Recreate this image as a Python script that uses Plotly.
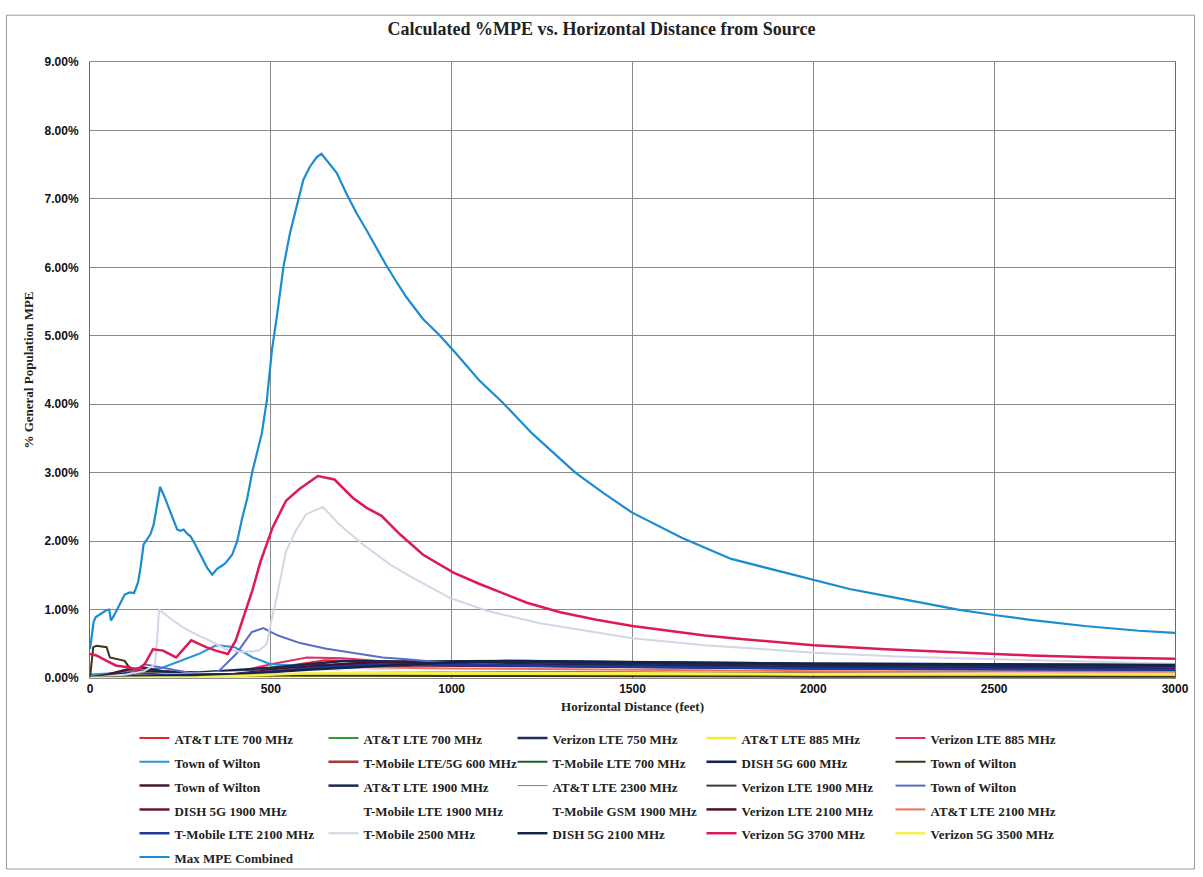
import plotly.graph_objects as go

# ---------------- data (distance in feet, value in % of general population MPE) ----------------
att700_red_ft = [0, 50, 100, 150, 200, 300, 400, 500, 550, 650, 800, 1000, 1500, 2000, 2500, 3000]
att700_red_pct = [0.02, 0.06, 0.10, 0.09, 0.08, 0.06, 0.06, 0.12, 0.18, 0.26, 0.24, 0.20, 0.15, 0.13, 0.12, 0.11]

att700_green_ft = [0, 100, 200, 300, 400, 500, 600, 700, 900, 1200, 1600, 2000, 2500, 3000]
att700_green_pct = [0.00, 0.01, 0.02, 0.03, 0.04, 0.08, 0.12, 0.15, 0.18, 0.17, 0.15, 0.14, 0.13, 0.12]

vzw750_ft = [0, 100, 200, 300, 400, 500, 600, 800, 1000, 1200, 1600, 2000, 2500, 3000]
vzw750_pct = [0.00, 0.03, 0.05, 0.05, 0.06, 0.12, 0.18, 0.22, 0.23, 0.23, 0.21, 0.19, 0.18, 0.17]

att885_ft = [0, 200, 400, 500, 800, 1200, 2000, 3000]
att885_pct = [0.00, 0.01, 0.02, 0.03, 0.05, 0.06, 0.06, 0.06]

vzw885_ft = [0, 200, 400, 500, 600, 700, 800, 1000, 1500, 2000, 2500, 3000]
vzw885_pct = [0.00, 0.02, 0.08, 0.20, 0.30, 0.29, 0.25, 0.20, 0.15, 0.12, 0.11, 0.10]

wilton_lblue_ft = [0, 100, 200, 300, 350, 400, 450, 500, 700, 1000, 2000, 3000]
wilton_lblue_pct = [0.05, 0.08, 0.15, 0.35, 0.48, 0.45, 0.30, 0.20, 0.15, 0.10, 0.06, 0.04]

tmo600_ft = [0, 200, 400, 500, 700, 900, 1200, 2000, 3000]
tmo600_pct = [0.00, 0.04, 0.06, 0.10, 0.18, 0.20, 0.18, 0.15, 0.13]

tmo700_ft = [0, 200, 400, 500, 700, 900, 1200, 2000, 3000]
tmo700_pct = [0.00, 0.03, 0.05, 0.08, 0.15, 0.17, 0.16, 0.13, 0.12]

dish600_ft = [0, 200, 400, 500, 700, 900, 1200, 1500, 2000, 3000]
dish600_pct = [0.00, 0.03, 0.06, 0.10, 0.20, 0.24, 0.25, 0.23, 0.21, 0.19]

wilton_olive_ft = [0, 9, 18, 46, 55, 73, 96, 105, 120, 140, 200, 300, 600, 1000, 2000, 3000]
wilton_olive_pct = [0.00, 0.45, 0.47, 0.45, 0.30, 0.28, 0.25, 0.18, 0.12, 0.10, 0.06, 0.04, 0.04, 0.03, 0.02, 0.02]

wilton_maroon_ft = [0, 50, 100, 150, 200, 300, 500, 800, 1200, 2000, 3000]
wilton_maroon_pct = [0.00, 0.05, 0.12, 0.15, 0.10, 0.06, 0.08, 0.12, 0.11, 0.09, 0.08]

att1900_ft = [0, 150, 300, 500, 700, 900, 1200, 2000, 3000]
att1900_pct = [0.00, 0.10, 0.08, 0.15, 0.25, 0.24, 0.20, 0.16, 0.14]

att2300_ft = [0, 150, 300, 600, 900, 2000, 3000]
att2300_pct = [0.00, 0.08, 0.05, 0.12, 0.14, 0.10, 0.08]

vzw1900_ft = [0, 150, 300, 500, 700, 1000, 2000, 3000]
vzw1900_pct = [0.00, 0.06, 0.05, 0.12, 0.20, 0.18, 0.13, 0.11]

wilton_slate_ft = [0, 100, 150, 200, 250, 300, 356, 404, 447, 479, 520, 581, 650, 719, 809, 857, 948, 1100, 1300, 1600, 2000, 2500, 3000]
wilton_slate_pct = [0.00, 0.03, 0.20, 0.15, 0.10, 0.05, 0.10, 0.35, 0.67, 0.73, 0.62, 0.51, 0.43, 0.37, 0.30, 0.28, 0.24, 0.20, 0.17, 0.14, 0.12, 0.10, 0.09]

dish1900_ft = [0, 200, 400, 600, 900, 1200, 2000, 3000]
dish1900_pct = [0.00, 0.03, 0.05, 0.12, 0.18, 0.17, 0.14, 0.12]

tmo1900_ft = [0, 200, 500, 900, 2000, 3000]
tmo1900_pct = [0.00, 0.05, 0.10, 0.15, 0.12, 0.10]

tmogsm1900_ft = [0, 200, 500, 900, 2000, 3000]
tmogsm1900_pct = [0.00, 0.04, 0.08, 0.12, 0.10, 0.08]

vzw2100_ft = [0, 200, 400, 550, 750, 1000, 1500, 2000, 3000]
vzw2100_pct = [0.00, 0.04, 0.06, 0.14, 0.22, 0.20, 0.16, 0.14, 0.12]

att2100_ft = [0, 200, 400, 550, 700, 1000, 2000, 3000]
att2100_pct = [0.00, 0.03, 0.05, 0.12, 0.16, 0.14, 0.10, 0.09]

tmo2100_ft = [0, 200, 400, 600, 800, 1000, 1500, 2000, 3000]
tmo2100_pct = [0.00, 0.04, 0.05, 0.14, 0.20, 0.19, 0.16, 0.14, 0.12]

tmo2500_ft = [0, 50, 100, 150, 180, 186, 191, 220, 257, 300, 330, 376, 422, 468, 489, 500, 514, 542, 569, 597, 644, 690, 755, 829, 894, 995, 1100, 1244, 1400, 1500, 1700, 2000, 2250, 2500, 2750, 3000]
tmo2500_pct = [0.00, 0.02, 0.05, 0.10, 0.20, 0.60, 1.00, 0.88, 0.74, 0.62, 0.55, 0.42, 0.38, 0.40, 0.50, 0.80, 1.12, 1.85, 2.15, 2.39, 2.50, 2.24, 1.95, 1.66, 1.46, 1.17, 0.98, 0.80, 0.66, 0.58, 0.48, 0.37, 0.31, 0.27, 0.24, 0.21]

dish2100_ft = [0, 200, 400, 600, 800, 1000, 1150, 1500, 2000, 2500, 3000]
dish2100_pct = [0.00, 0.03, 0.05, 0.12, 0.18, 0.23, 0.25, 0.23, 0.21, 0.20, 0.19]

vzw3700_ft = [0, 18, 46, 73, 101, 133, 151, 174, 202, 238, 280, 321, 348, 381, 403, 431, 449, 472, 505, 542, 579, 630, 676, 727, 764, 806, 857, 921, 1005, 1079, 1208, 1300, 1400, 1500, 1600, 1700, 1800, 1900, 2000, 2200, 2400, 2600, 2800, 3000]
vzw3700_pct = [0.35, 0.33, 0.25, 0.18, 0.16, 0.12, 0.20, 0.42, 0.40, 0.30, 0.55, 0.45, 0.40, 0.35, 0.55, 0.99, 1.28, 1.71, 2.20, 2.59, 2.76, 2.95, 2.90, 2.63, 2.49, 2.37, 2.10, 1.80, 1.54, 1.37, 1.10, 0.96, 0.85, 0.76, 0.69, 0.62, 0.57, 0.52, 0.48, 0.42, 0.37, 0.33, 0.30, 0.28]

vzw3500_ft = [0, 300, 600, 1000, 2000, 3000]
vzw3500_pct = [0.00, 0.01, 0.07, 0.08, 0.06, 0.05]

max_ft = [0, 5, 10, 16, 25, 35, 45, 53, 58, 65, 74, 85, 96, 110, 122, 133, 140, 148, 160, 167, 176, 185, 194, 205, 218, 230, 241, 250, 259, 270, 278, 288, 296, 310, 324, 338, 352, 365, 375, 393, 407, 421, 435, 449, 462, 475, 489, 503, 518, 535, 553, 567, 581, 590, 608, 627, 640, 663, 682, 709, 737, 764, 790, 819, 846, 874, 920, 966, 1012, 1076, 1140, 1223, 1342, 1420, 1498, 1636, 1773, 2000, 2100, 2200, 2300, 2400, 2500, 2600, 2750, 2900, 3000]
max_pct = [0.42, 0.62, 0.82, 0.89, 0.92, 0.96, 0.99, 1.00, 0.84, 0.90, 0.99, 1.10, 1.22, 1.25, 1.24, 1.40, 1.62, 1.95, 2.05, 2.10, 2.24, 2.50, 2.79, 2.66, 2.49, 2.33, 2.17, 2.15, 2.17, 2.10, 2.07, 1.98, 1.90, 1.75, 1.61, 1.51, 1.60, 1.64, 1.68, 1.80, 2.00, 2.34, 2.63, 3.02, 3.30, 3.57, 4.06, 4.79, 5.33, 6.01, 6.50, 6.80, 7.08, 7.28, 7.47, 7.61, 7.66, 7.50, 7.38, 7.08, 6.79, 6.55, 6.30, 6.03, 5.80, 5.57, 5.25, 5.01, 4.74, 4.35, 4.03, 3.57, 3.00, 2.70, 2.42, 2.05, 1.74, 1.43, 1.30, 1.20, 1.10, 1.00, 0.92, 0.85, 0.76, 0.69, 0.66]

series_names = [
    "AT&T LTE 700 MHz", "AT&T LTE 700 MHz", "Verizon LTE 750 MHz", "AT&T LTE 885 MHz", "Verizon LTE 885 MHz",
    "Town of Wilton", "T-Mobile LTE/5G 600 MHz", "T-Mobile LTE 700 MHz", "DISH 5G 600 MHz", "Town of Wilton",
    "Town of Wilton", "AT&T LTE 1900 MHz", "AT&T LTE 2300 MHz", "Verizon LTE 1900 MHz", "Town of Wilton",
    "DISH 5G 1900 MHz", "T-Mobile LTE 1900 MHz", "T-Mobile GSM 1900 MHz", "Verizon LTE 2100 MHz", "AT&T LTE 2100 MHz",
    "T-Mobile LTE 2100 MHz", "T-Mobile 2500 MHz", "DISH 5G 2100 MHz", "Verizon 5G 3700 MHz", "Verizon 5G 3500 MHz",
    "Max MPE Combined",
]
series_x = [
    att700_red_ft, att700_green_ft, vzw750_ft, att885_ft, vzw885_ft,
    wilton_lblue_ft, tmo600_ft, tmo700_ft, dish600_ft, wilton_olive_ft,
    wilton_maroon_ft, att1900_ft, att2300_ft, vzw1900_ft, wilton_slate_ft,
    dish1900_ft, tmo1900_ft, tmogsm1900_ft, vzw2100_ft, att2100_ft,
    tmo2100_ft, tmo2500_ft, dish2100_ft, vzw3700_ft, vzw3500_ft,
    max_ft,
]
series_y = [
    att700_red_pct, att700_green_pct, vzw750_pct, att885_pct, vzw885_pct,
    wilton_lblue_pct, tmo600_pct, tmo700_pct, dish600_pct, wilton_olive_pct,
    wilton_maroon_pct, att1900_pct, att2300_pct, vzw1900_pct, wilton_slate_pct,
    dish1900_pct, tmo1900_pct, tmogsm1900_pct, vzw2100_pct, att2100_pct,
    tmo2100_pct, tmo2500_pct, dish2100_pct, vzw3700_pct, vzw3500_pct,
    max_pct,
]

x_ticks = [0, 500, 1000, 1500, 2000, 2500, 3000]
y_ticks = [0, 1, 2, 3, 4, 5, 6, 7, 8, 9]
y_tick_labels = ["0.00%", "1.00%", "2.00%", "3.00%", "4.00%", "5.00%", "6.00%", "7.00%", "8.00%", "9.00%"]

# ---------------- styles ----------------
colors = [
    "#e8262a", "#2e9a3a", "#1f2d5a", "#f2ef3a", "#e0306a",
    "#2e95d3", "#a23b3b", "#1d5e2a", "#14244f", "#3b3416",
    "#4a1a2a", "#1a2850", "#808080", "#3a3a40", "#5b6bc6",
    "#6b1535", "#ffffff", "#ffffff", "#4d0d2c", "#f07060",
    "#1b3a9a", "#d3d6e6", "#152349", "#dc1a58", "#f5f050",
    "#1b8ccf",
]
widths = [2, 2, 2.5, 2.5, 2, 2, 2.5, 2, 2.5, 2, 2.5, 2.5, 1, 2, 2,
          2.5, 2, 2, 2.5, 2, 2.5, 2, 2.5, 2.5, 2.5, 2.2]

fig = go.Figure()
for name, xs, ys, c, w in zip(series_names, series_x, series_y, colors, widths):
    fig.add_trace(go.Scatter(x=xs, y=ys, mode="lines",
                             name='<span style="font-size:13px">' + name + "</span>",
                             line=dict(color=c, width=w), hoverinfo="skip"))

serif = "Liberation Serif"
fig.update_layout(
    width=1203, height=877,
    paper_bgcolor="white", plot_bgcolor="white",
    margin=dict(l=90, r=28, t=62, b=199, autoexpand=False),
    title=dict(text="Calculated %MPE vs. Horizontal Distance from Source",
               x=0.5, xanchor="center", y=1 - 29 / 877, yanchor="middle",
               font=dict(family=serif, size=18, color="#222", weight="bold")),
    showlegend=True,
    legend=dict(orientation="h", x=0.041, xanchor="left", y=-0.07, yanchor="top",
                entrywidth=144, entrywidthmode="pixels", traceorder="normal",
                font=dict(family=serif, size=16, color="#222", weight="bold"),
                itemwidth=30, tracegroupgap=0, bgcolor="rgba(0,0,0,0)"),
    xaxis=dict(range=[0, 3000], tickvals=x_ticks, showgrid=True, gridcolor="#8a8a8a", gridwidth=1,
               zeroline=False, showline=True, linecolor="#8a8a8a", mirror=True, ticklen=0,
               tickfont=dict(family="Liberation Sans", size=12, color="#111", weight="bold"),
               title=dict(text="Horizontal Distance (feet)", standoff=6,
                          font=dict(family=serif, size=13, color="#222", weight="bold"))),
    yaxis=dict(range=[0, 9], tickvals=y_ticks, ticktext=y_tick_labels,
               showgrid=True, gridcolor="#8a8a8a", gridwidth=1,
               zeroline=False, showline=True, linecolor="#6a6a6a", mirror=True, ticklen=0,
               ticklabelstandoff=8,
               tickfont=dict(family="Liberation Sans", size=12, color="#111", weight="bold"),
               title=dict(text="% General Population MPE", standoff=8,
                          font=dict(family=serif, size=13, color="#222", weight="bold"))),
    shapes=[dict(type="rect", xref="paper", yref="paper",
                 x0=-0.077, x1=1.018, y0=-0.31, y1=1.076,
                 line=dict(color="#9a9a9a", width=1))],
)

fig.write_html("out.html", config={"displayModeBar": False},
               post_script="document.body.style.margin='0';")
